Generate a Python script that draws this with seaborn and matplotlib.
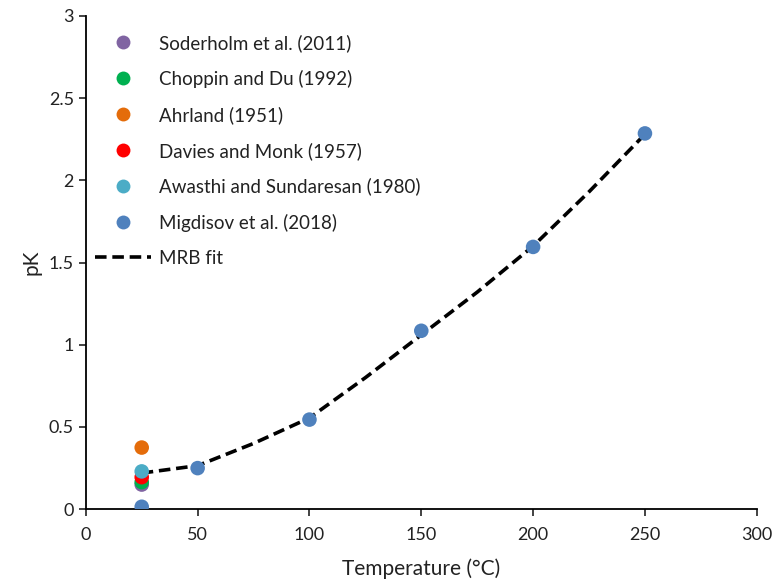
import matplotlib
matplotlib.use("Agg")
import matplotlib.pyplot as plt
import seaborn as sns
import pandas as pd
from matplotlib.lines import Line2D

# ---- data ----
series_names = ["Soderholm et al. (2011)", "Choppin and Du (1992)", "Ahrland (1951)",
                "Davies and Monk (1957)", "Awasthi and Sundaresan (1980)", "Migdisov et al. (2018)"]
soderholm_T = [25]
soderholm_pK = [0.15]
choppin_T = [25]
choppin_pK = [0.165]
ahrland_T = [25]
ahrland_pK = [0.375]
davies_T = [25]
davies_pK = [0.195]
awasthi_T = [25]
awasthi_pK = [0.23]
migdisov_T = [25, 50, 100, 150, 200, 250]
migdisov_pK = [0.015, 0.25, 0.545, 1.085, 1.595, 2.285]
fit_T = [25, 50, 75, 100, 125, 150, 175, 200, 225, 250]
fit_pK = [0.22, 0.265, 0.40, 0.555, 0.80, 1.06, 1.32, 1.60, 1.93, 2.28]
colors = ["#8064A2", "#00B050", "#E46C0A", "#FF0000", "#4BACC6", "#4F81BD"]

rows = []
for name, T, pK in zip(series_names,
                       [soderholm_T, choppin_T, ahrland_T, davies_T, awasthi_T, migdisov_T],
                       [soderholm_pK, choppin_pK, ahrland_pK, davies_pK, awasthi_pK, migdisov_pK]):
    for t, p in zip(T, pK):
        rows.append({"series": name, "T": t, "pK": p})
df = pd.DataFrame(rows)
fit_df = pd.DataFrame({"T": fit_T, "pK": fit_pK})

sns.set_style("white")
plt.rcParams["font.family"] = ["Lato", "DejaVu Sans"]

fig = plt.figure(figsize=(7.73, 5.86), dpi=100)
ax = fig.add_axes([0.111, 0.131, 0.868, 0.842])

sns.lineplot(data=fit_df, x="T", y="pK", ax=ax, color="black", linestyle=(0, (3.2, 1.6)),
             linewidth=2.6, zorder=2)
sns.scatterplot(data=df, x="T", y="pK", hue="series", hue_order=series_names,
                palette=colors, s=110, edgecolor="none", ax=ax, zorder=3, legend=False)

ax.set_xlim(0, 300)
ax.set_ylim(0, 3)
ax.set_xticks([0, 50, 100, 150, 200, 250, 300])
ax.set_yticks([0, 0.5, 1, 1.5, 2, 2.5, 3])
ax.set_yticklabels(["0", "0.5", "1", "1.5", "2", "2.5", "3"])
ax.set_xlabel("Temperature (°C)", fontsize=15, color="#222222", labelpad=11)
ax.set_ylabel("pK", fontsize=15, color="#222222", labelpad=5)
ax.tick_params(axis="both", labelsize=13, colors="#222222", direction="out", length=5, width=1.2, left=True, bottom=True)
ax.tick_params(axis="x", pad=8)
for s in ["top", "right"]:
    ax.spines[s].set_visible(False)
for s in ["left", "bottom"]:
    ax.spines[s].set_color("black")
    ax.spines[s].set_linewidth(1.3)

handles = [Line2D([0], [0], marker="o", color="none", markerfacecolor=c, markeredgecolor="none",
                  markersize=10, linestyle="none") for c in colors]
handles.append(Line2D([0], [0], color="black", linestyle=(0, (3.2, 1.6)), linewidth=2.6))
labels = series_names + ["MRB fit"]
leg = ax.legend(handles, labels, loc="upper left", bbox_to_anchor=(-0.006, 0.99), frameon=False,
                fontsize=13.5, handlelength=3.0, handletextpad=0.4, labelspacing=0.96, borderaxespad=0.3)
for t in leg.get_texts():
    t.set_color("#222222")

fig.savefig("out.png", dpi=100)
